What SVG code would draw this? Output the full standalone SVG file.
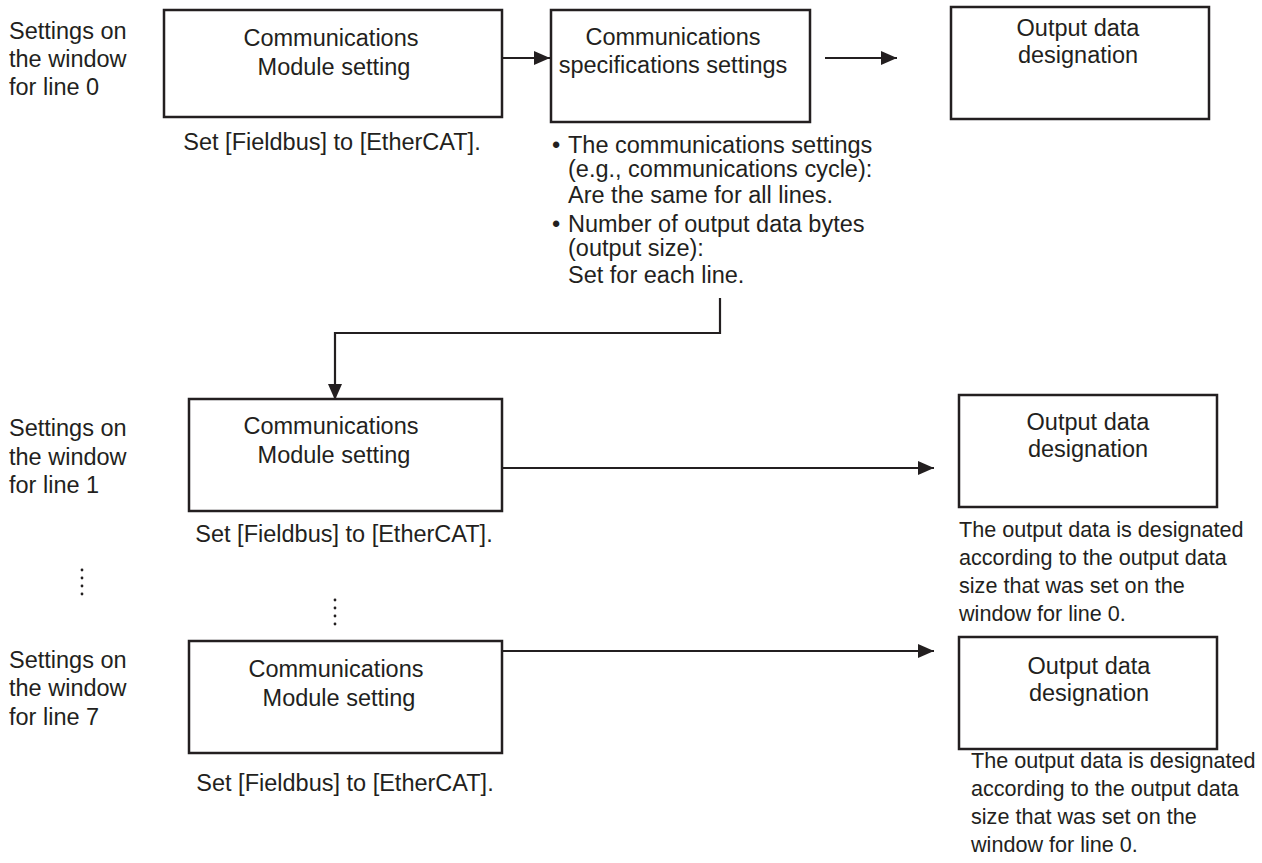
<svg xmlns="http://www.w3.org/2000/svg" width="1262" height="863" viewBox="0 0 1262 863">
<defs>
<marker id="ah" markerUnits="userSpaceOnUse" markerWidth="16" markerHeight="16" viewBox="0 0 16 16" refX="16" refY="8" orient="auto">
<path d="M0,1 L16,8 L0,15 Z" fill="#231f20"/>
</marker>
<style>
text{font-family:"Liberation Sans",Arial,sans-serif;font-size:23.5px;fill:#231f20}
.box{fill:#fff;stroke:#231f20;stroke-width:2.5}
.c{text-anchor:middle}
.note{font-size:21.6px}
.ln{fill:none;stroke:#231f20;stroke-width:2.2}
.dot{fill:#231f20}
</style>
</defs>
<rect width="1262" height="863" fill="#fff"/>

<g id="label-line0">
<text x="9" y="39">Settings on</text>
<text x="9" y="67">the window</text>
<text x="9" y="95">for line 0</text>
</g>
<g id="label-line1">
<text x="9" y="436">Settings on</text>
<text x="9" y="465">the window</text>
<text x="9" y="493">for line 1</text>
</g>
<g id="label-line7">
<text x="9" y="668">Settings on</text>
<text x="9" y="696">the window</text>
<text x="9" y="725">for line 7</text>
</g>

<g id="comm-module-0">
<rect class="box" x="164" y="10" width="338" height="107"/>
<text class="c" x="331" y="46">Communications</text>
<text class="c" x="334" y="75">Module setting</text>
<text class="c" x="332" y="150">Set [Fieldbus] to [EtherCAT].</text>
</g>

<g id="comm-spec-0">
<rect class="box" x="551" y="10" width="259" height="112"/>
<text class="c" x="673" y="45">Communications</text>
<text class="c" x="673" y="73">specifications settings</text>
<text x="552" y="153">•</text>
<text x="568" y="153">The communications settings</text>
<text x="568" y="177">(e.g., communications cycle):</text>
<text x="568" y="203">Are the same for all lines.</text>
<text x="552" y="232">•</text>
<text x="568" y="232">Number of output data bytes</text>
<text x="568" y="256">(output size):</text>
<text x="568" y="283">Set for each line.</text>
</g>

<g id="output-0">
<rect class="box" x="951" y="7" width="258" height="112"/>
<text class="c" x="1078" y="36">Output data</text>
<text class="c" x="1078" y="63">designation</text>
</g>

<g id="comm-module-1">
<rect class="box" x="189" y="399" width="313" height="112"/>
<text class="c" x="331" y="434">Communications</text>
<text class="c" x="334" y="463">Module setting</text>
<text class="c" x="344" y="542">Set [Fieldbus] to [EtherCAT].</text>
</g>

<g id="output-1">
<rect class="box" x="959" y="395" width="258" height="112"/>
<text class="c" x="1088" y="430">Output data</text>
<text class="c" x="1088" y="457">designation</text>
<text class="note" x="959" y="537">The output data is designated</text>
<text class="note" x="959" y="565">according to the output data</text>
<text class="note" x="959" y="593">size that was set on the</text>
<text class="note" x="959" y="621">window for line 0.</text>
</g>

<g id="comm-module-7">
<rect class="box" x="189" y="641" width="313" height="112"/>
<text class="c" x="336" y="677">Communications</text>
<text class="c" x="339" y="706">Module setting</text>
<text class="c" x="345" y="791">Set [Fieldbus] to [EtherCAT].</text>
</g>

<g id="output-7">
<rect class="box" x="959" y="637" width="258" height="112"/>
<text class="c" x="1089" y="674">Output data</text>
<text class="c" x="1089" y="701">designation</text>
<text class="note" x="971" y="768">The output data is designated</text>
<text class="note" x="971" y="796">according to the output data</text>
<text class="note" x="971" y="824">size that was set on the</text>
<text class="note" x="971" y="852">window for line 0.</text>
</g>

<g id="ellipsis">
<circle class="dot" cx="82" cy="570" r="1.4"/>
<circle class="dot" cx="82" cy="578" r="1.4"/>
<circle class="dot" cx="82" cy="586" r="1.4"/>
<circle class="dot" cx="82" cy="594" r="1.4"/>
<circle class="dot" cx="335" cy="600" r="1.4"/>
<circle class="dot" cx="335" cy="608" r="1.4"/>
<circle class="dot" cx="335" cy="616" r="1.4"/>
<circle class="dot" cx="335" cy="624" r="1.4"/>
</g>

<g id="connectors">
<line class="ln" x1="502" y1="58" x2="550" y2="58" marker-end="url(#ah)"/>
<line class="ln" x1="825" y1="58" x2="897" y2="58" marker-end="url(#ah)"/>
<path class="ln" d="M720,298 V333 H335 V400" marker-end="url(#ah)"/>
<line class="ln" x1="502" y1="468" x2="934" y2="468" marker-end="url(#ah)"/>
<line class="ln" x1="502" y1="651" x2="934" y2="651" marker-end="url(#ah)"/>
</g>
</svg>
